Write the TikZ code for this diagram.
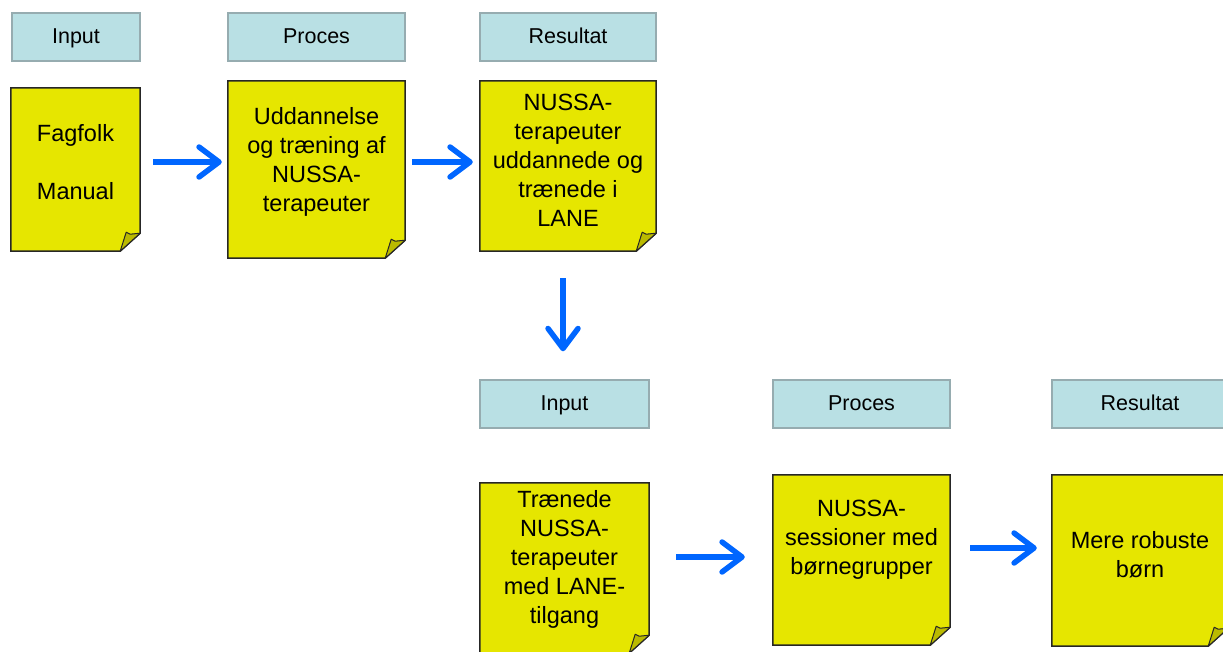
\documentclass[tikz,border=0pt]{standalone}
\usepackage{fontspec}
\setmainfont{Liberation Sans}
\usetikzlibrary{arrows.meta}
\definecolor{headblue}{RGB}{185,224,228}
\definecolor{headedge}{RGB}{150,172,176}
\definecolor{noteyellow}{RGB}{230,230,0}
\definecolor{foldolive}{RGB}{186,186,0}
\definecolor{flowblue}{RGB}{0,102,255}
\tikzset{
	head/.style={draw=headedge, line width=1.5pt, fill=headblue, inner sep=0pt, text height=15.5pt, text depth=2pt, font=\fontsize{21.5}{26}\selectfont},
	notebox/.style={inner sep=0pt},
	noteedge/.style={draw=black!85, line width=1.5pt, fill=noteyellow},
	notefold/.style={draw=black!85, line width=1pt, fill=foldolive, line join=round},
	notetext/.style={align=center, font=\fontsize{23.5}{29}\selectfont},
	flow/.style={draw=flowblue, line width=5.5pt, -{Straight Barb[length=20pt, width=30pt, round]}},
}
% name, x, y, width, height
\newcommand\notepage[5]{
	\node[notebox, minimum width=#4pt, minimum height=#5pt] (#1) at (#2,#3) {};
	\draw[noteedge] (#1.north west) -- (#1.north east) -- ([yshift=18]#1.south east) -- ([xshift=-20]#1.south east) -- (#1.south west) -- cycle;
	\draw[notefold] ([xshift=-20]#1.south east) -- ([xshift=-14,yshift=19]#1.south east) -- ([xshift=-10,yshift=17]#1.south east) -- ([yshift=18]#1.south east) -- cycle;
}
\begin{document}
\begin{tikzpicture}[x=1pt, y=-1pt]
			%%%%% START %%%%%
			\useasboundingbox (0,0) rectangle (1223,651);
			
			% top row
			\node[head, minimum width=128pt, minimum height=48pt] (in1) at (76,37) {Input};
			\node[head, minimum width=177pt, minimum height=48pt] (pro1) at (316.5,37) {Proces};
			\node[head, minimum width=176pt, minimum height=48pt] (res1) at (568,37) {Resultat};
			
			\notepage{fag}{75.5}{169.5}{129}{163}
			\node[notetext] (fagtext) at ([yshift=7.5]fag.center) {Fagfolk\\[29pt]Manual};
			
			\notepage{udd}{316.5}{169.5}{177}{177}
			\node[notetext] (uddtext) at ([yshift=8]udd.center) {Uddannelse\\og træning af\\NUSSA-\\terapeuter};
			
			\notepage{nus}{568}{166}{176}{170}
			\node[notetext] (nustext) at ([yshift=6]nus.center) {NUSSA-\\terapeuter\\uddannede og\\trænede i\\LANE};
			
			% bottom row
			\node[head, minimum width=169pt, minimum height=48pt] (in2) at (564.5,404) {Input};
			\node[head, minimum width=177pt, minimum height=48pt] (pro2) at (861.5,404) {Proces};
			\node[head, minimum width=176pt, minimum height=48pt] (res2) at (1140,404) {Resultat};
			
			\notepage{trae}{564.5}{568}{169}{170}
			\node[notetext] (traetext) at ([yshift=9]trae.center) {Trænede\\NUSSA-\\terapeuter\\med LANE-\\tilgang};
			
			\notepage{ses}{861.5}{560}{177}{170}
			\node[notetext] (sestext) at ([yshift=20.5]ses.center) {NUSSA-\\sessioner med\\børnegrupper};
			
			\notepage{mere}{1140}{560.5}{176}{171}
			\node[notetext] (meretext) at ([yshift=6]mere.center) {Mere robuste\\børn};
			
			% arrows
			\draw[flow] ([xshift=13,yshift=7.5]fag.east) -- ([xshift=-6,yshift=7.5]udd.west);
			\draw[flow] ([xshift=7,yshift=7.5]udd.east) -- ([xshift=-7,yshift=4]nus.west);
			\draw[flow] ([xshift=-5,yshift=-27]nus.south) -- ([xshift=-1.5,yshift=28]in2.north);
			\draw[flow] ([xshift=27,yshift=11]trae.east) -- ([xshift=-28,yshift=3]ses.west);
			\draw[flow] ([xshift=20,yshift=12]ses.east) -- ([xshift=-15,yshift=12.5]mere.west);
			
			%%%%% END %%%%%
\end{tikzpicture}
\end{document}
